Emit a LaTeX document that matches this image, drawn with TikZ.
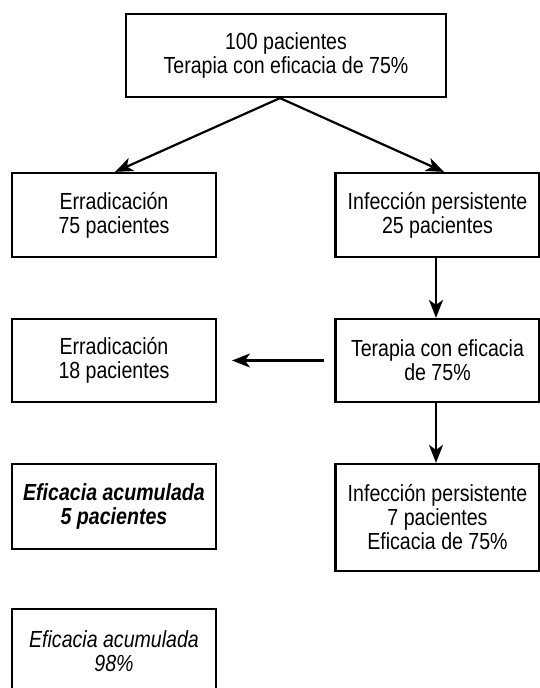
\documentclass[tikz,border=0pt]{standalone}
\usepackage{fontspec}
\setmainfont{Liberation Sans}[FakeStretch=0.84]
\usetikzlibrary{arrows.meta}
\begin{document}
\begin{tikzpicture}[x=1pt,y=-1pt,
  box/.style={draw=black,line width=2.2pt,rectangle,inner sep=0pt,
    minimum width=204pt,align=center,
    font=\fontsize{23.3}{24}\selectfont},
  arr/.style={line width=2.2pt,-{Stealth[length=18pt,width=14pt,inset=5pt]}}]
\useasboundingbox (0,0) rectangle (540,688);
\clip (0,0) rectangle (540,688);
\fill[white] (0,0) rectangle (540,688);
\node[box,minimum width=320pt,minimum height=83pt] (top) at (286,55.5) {100 pacientes\\Terapia con eficacia de 75\%};
\node[box,minimum height=84pt] (l1) at (114,215) {Erradicación\\75 pacientes};
\node[box,minimum height=84pt] (r1) at (437.5,215) {Infección persistente\\25 pacientes};
\node[box,minimum height=83pt] (l2) at (114,360.5) {Erradicación\\18 pacientes};
\node[box,minimum height=83pt] (r2) at (437.5,360.5) {Terapia con eficacia\\de 75\%};
\node[box,minimum height=85pt] (l3) at (114,506.5) {\bfseries\itshape Eficacia acumulada\\\bfseries\itshape 5 pacientes};
\node[box,minimum height=107pt] (r3) at (437.5,517.5) {Infección persistente\\7 pacientes\\Eficacia de 75\%};
\node[box,minimum height=84pt] (l4) at (114,651) {\itshape Eficacia acumulada\\\itshape 98\%};
\coordinate (s2) at (324,360.5);
\coordinate (e2) at (232,360.5);
\draw[arr] ([xshift=-6pt]top.south) -- ([xshift=1pt]l1.north);
\draw[arr] ([xshift=-6pt]top.south) -- ([xshift=6.5pt]r1.north);
\draw[arr] ([xshift=-1.5pt]r1.south) -- ([xshift=-1.5pt]r2.north);
\draw[arr] (s2) -- (e2);
\draw[arr] ([xshift=-1.5pt]r2.south) -- ([xshift=-1.5pt]r3.north);
\end{tikzpicture}
\end{document}
